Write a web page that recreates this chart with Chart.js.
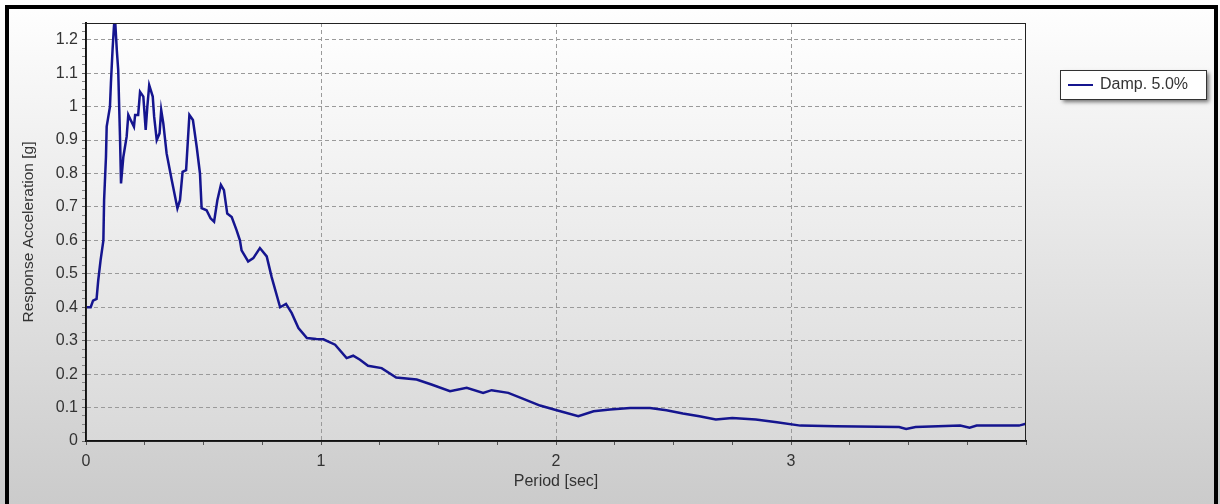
<!DOCTYPE html>
<html>
<head>
<meta charset="utf-8">
<script src="https://cdn.jsdelivr.net/npm/chart.js@4/dist/chart.umd.min.js"></script>
<style>
  html, body { margin: 0; padding: 0; background: #d0d0d0; }
  #wrap { width: 1220px; height: 504px; }
</style>
</head>
<body>
<div id="wrap"><canvas id="spectrum" width="1220" height="504"></canvas></div>
<script>
// --- Data (period in sec, acceleration in g) ---
const periods = [
  0.00, 0.02, 0.03, 0.045, 0.052, 0.062, 0.074, 0.077, 0.085, 0.088,
  0.102, 0.106, 0.113, 0.119, 0.123, 0.131, 0.137, 0.145, 0.149, 0.159,
  0.173, 0.180, 0.190, 0.204, 0.209, 0.222, 0.230, 0.244, 0.254, 0.261,
  0.269, 0.284, 0.290, 0.301, 0.313, 0.320, 0.329, 0.343, 0.365, 0.389,
  0.400, 0.411, 0.426, 0.440, 0.455, 0.471, 0.485, 0.492, 0.513, 0.530,
  0.545, 0.559, 0.574, 0.587, 0.601, 0.620, 0.641, 0.655, 0.662, 0.690,
  0.712, 0.740, 0.769, 0.790, 0.826, 0.851, 0.875, 0.904, 0.940, 0.980,
  1.010, 1.060, 1.109, 1.137, 1.166, 1.200, 1.258, 1.320, 1.407, 1.470,
  1.549, 1.620, 1.690, 1.726, 1.797, 1.861, 1.932, 2.003, 2.095, 2.160,
  2.230, 2.315, 2.400, 2.470, 2.540, 2.610, 2.680, 2.750, 2.850, 2.940,
  3.040, 3.190, 3.460, 3.490, 3.530, 3.720, 3.760, 3.790, 3.970, 4.000
];
const accel = [
  0.400, 0.400, 0.420, 0.425, 0.480, 0.540, 0.600, 0.720, 0.850, 0.940,
  1.000, 1.070, 1.170, 1.240, 1.270, 1.170, 1.110, 0.900, 0.770, 0.850,
  0.910, 0.975, 0.960, 0.940, 0.975, 0.975, 1.044, 1.030, 0.930, 1.000,
  1.064, 1.030, 0.970, 0.900, 0.920, 0.990, 0.950, 0.860, 0.780, 0.696,
  0.720, 0.805, 0.810, 0.975, 0.960, 0.880, 0.800, 0.696, 0.690, 0.666,
  0.656, 0.720, 0.766, 0.750, 0.680, 0.670, 0.630, 0.600, 0.570, 0.537,
  0.547, 0.577, 0.552, 0.490, 0.400, 0.410, 0.383, 0.338, 0.308, 0.305,
  0.304, 0.288, 0.248, 0.255, 0.243, 0.225, 0.218, 0.190, 0.184, 0.169,
  0.149, 0.159, 0.144, 0.152, 0.144, 0.126, 0.106, 0.092, 0.074, 0.089,
  0.094, 0.099, 0.099, 0.092, 0.082, 0.074, 0.064, 0.069, 0.064, 0.056,
  0.046, 0.044, 0.042, 0.036, 0.042, 0.046, 0.040, 0.046, 0.046, 0.052
];
const xTickLabels = ['0', '1', '2', '3'];
const seriesLabel = 'Damp. 5.0%';
const xTitle = 'Period [sec]';
const yTitle = 'Response Acceleration [g]';

const LINE_COLOR = '#15158f';
const TEXT_COLOR = '#333333';
const FONT = '"Liberation Sans", Arial, sans-serif';

const isStep = (v, step) => Math.abs(v / step - Math.round(v / step)) < 1e-6;

// --- Backgrounds, frame, legend, axis titles ---
const decor = {
  id: 'decor',
  beforeDraw(chart) {
    const { ctx, width, height, chartArea: a } = chart;
    ctx.save();
    let g = ctx.createLinearGradient(0, 0, 0, height);
    g.addColorStop(0, '#ffffff');
    g.addColorStop(1, '#cbcbcb');
    ctx.fillStyle = g;
    ctx.fillRect(0, 0, width, height);

    // black outer frame (open at the bottom)
    ctx.strokeStyle = '#000';
    ctx.lineWidth = 4;
    ctx.beginPath();
    ctx.moveTo(7, height);
    ctx.lineTo(7, 7);
    ctx.lineTo(1216, 7);
    ctx.lineTo(1216, height);
    ctx.stroke();

    g = ctx.createLinearGradient(0, a.top, 0, a.bottom);
    g.addColorStop(0, '#ffffff');
    g.addColorStop(1, '#d9d9d9');
    ctx.fillStyle = g;
    ctx.fillRect(a.left, a.top, a.right - a.left, a.bottom - a.top);
    ctx.restore();
  },
  afterDraw(chart) {
    const { ctx, chartArea: a } = chart;
    ctx.save();
    // thin plot frame
    ctx.strokeStyle = '#222';
    ctx.lineWidth = 1;
    ctx.strokeRect(a.left + 0.5, a.top + 0.5, a.right - a.left - 1, a.bottom - a.top);

    // axis titles
    ctx.fillStyle = TEXT_COLOR;
    ctx.textAlign = 'center';
    ctx.textBaseline = 'middle';
    ctx.font = '16px ' + FONT;
    ctx.fillText(xTitle, (a.left + a.right) / 2, 482);
    ctx.font = '15.5px ' + FONT;
    ctx.translate(29, (a.top + a.bottom) / 2);
    ctx.rotate(-Math.PI / 2);
    ctx.fillText(yTitle, 0, 0);
    ctx.restore();

    // legend box
    ctx.save();
    const bx = 1060, by = 70, bw = 146, bh = 29;
    ctx.shadowColor = 'rgba(0,0,0,0.55)';
    ctx.shadowBlur = 4;
    ctx.shadowOffsetX = 3;
    ctx.shadowOffsetY = 3;
    ctx.fillStyle = '#ffffff';
    ctx.fillRect(bx, by, bw, bh);
    ctx.shadowColor = 'transparent';
    ctx.strokeStyle = '#333';
    ctx.lineWidth = 1;
    ctx.strokeRect(bx + 0.5, by + 0.5, bw, bh);
    ctx.strokeStyle = LINE_COLOR;
    ctx.lineWidth = 2;
    ctx.beginPath();
    ctx.moveTo(bx + 8, by + 15);
    ctx.lineTo(bx + 33, by + 15);
    ctx.stroke();
    ctx.fillStyle = TEXT_COLOR;
    ctx.font = '16px ' + FONT;
    ctx.textBaseline = 'middle';
    ctx.fillText(seriesLabel, bx + 40, by + 15);
    ctx.restore();
  }
};

new Chart(document.getElementById('spectrum'), {
  type: 'line',
  data: {
    datasets: [{
      label: seriesLabel,
      data: periods.map((p, i) => ({ x: p, y: accel[i] })),
      borderColor: LINE_COLOR,
      borderWidth: 2.5,
      pointRadius: 0,
      tension: 0,
      fill: false
    }]
  },
  options: {
    responsive: false,
    animation: false,
    layout: { padding: { top: 23, right: 194, left: 0, bottom: 0 } },
    plugins: { legend: { display: false }, tooltip: { enabled: false } },
    scales: {
      x: {
        type: 'linear',
        min: 0,
        max: 4,
        afterFit: s => { s.height = 63; },
        ticks: {
          stepSize: 0.25,
          autoSkip: false,
          maxRotation: 0,
          padding: 7,
          color: TEXT_COLOR,
          font: { family: FONT, size: 16 },
          callback: v => (isStep(v, 1) && v < 4 ? xTickLabels[Math.round(v)] : '')
        },
        grid: {
          color: c => (isStep(c.tick.value, 1) && c.tick.value > 0 && c.tick.value < 4 ? '#9a9a9a' : 'rgba(0,0,0,0)'),
          tickColor: '#555',
          tickLength: 4,
          tickBorderDash: [],
          lineWidth: 1
        },
        border: { display: true, color: '#111', width: 2, dash: [4, 3] }
      },
      y: {
        min: 0,
        max: 1.25,
        afterFit: s => { s.width = 86; },
        ticks: {
          stepSize: 0.025,
          autoSkip: false,
          padding: 4,
          color: TEXT_COLOR,
          font: { family: FONT, size: 16 },
          callback: v => (isStep(v, 0.1) ? String(Math.round(v * 10) / 10) : '')
        },
        grid: {
          color: c => (isStep(c.tick.value, 0.1) && c.tick.value > 0 ? '#9a9a9a' : 'rgba(0,0,0,0)'),
          tickColor: c => (isStep(c.tick.value, 0.1) ? '#666' : '#888'),
          tickLength: 4,
          tickBorderDash: [],
          lineWidth: 1
        },
        border: { display: true, color: '#111', width: 2, dash: [4, 3] }
      }
    }
  },
  plugins: [decor]
});
</script>
</body>
</html>
